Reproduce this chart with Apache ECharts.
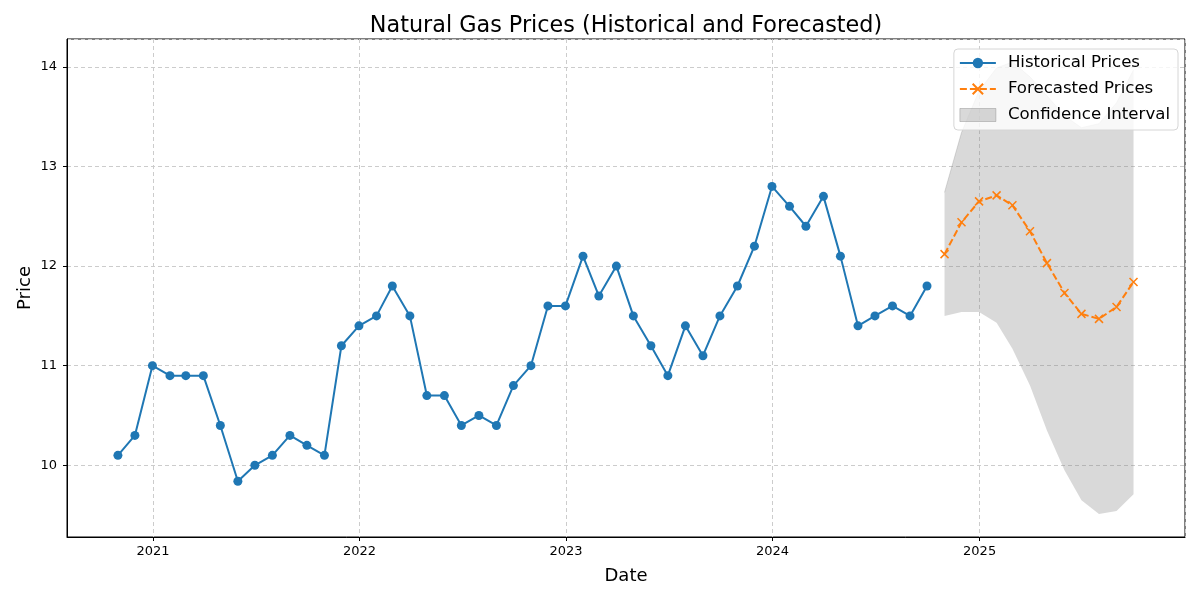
<!DOCTYPE html>
<html>
<head>
<meta charset="utf-8">
<script src="https://cdn.jsdelivr.net/npm/echarts@6/dist/echarts.min.js"></script>
<style>
    html, body { margin: 0; padding: 0; background: #fff; }
    #chart { width: 1200px; height: 600px; }
</style>
</head>
<body>
<div id="chart"></div>
<script>
// historical monthly prices (month end)
var histDates = [
    '2020-10-31', '2020-11-30', '2020-12-31',
    '2021-01-31', '2021-02-28', '2021-03-31', '2021-04-30', '2021-05-31', '2021-06-30',
    '2021-07-31', '2021-08-31', '2021-09-30', '2021-10-31', '2021-11-30', '2021-12-31',
    '2022-01-31', '2022-02-28', '2022-03-31', '2022-04-30', '2022-05-31', '2022-06-30',
    '2022-07-31', '2022-08-31', '2022-09-30', '2022-10-31', '2022-11-30', '2022-12-31',
    '2023-01-31', '2023-02-28', '2023-03-31', '2023-04-30', '2023-05-31', '2023-06-30',
    '2023-07-31', '2023-08-31', '2023-09-30', '2023-10-31', '2023-11-30', '2023-12-31',
    '2024-01-31', '2024-02-29', '2024-03-31', '2024-04-30', '2024-05-31', '2024-06-30',
    '2024-07-31', '2024-08-31', '2024-09-30'
];
var histPrices = [
    10.1, 10.3, 11.0,
    10.9, 10.9, 10.9, 10.4, 9.84, 10.0,
    10.1, 10.3, 10.2, 10.1, 11.2, 11.4,
    11.5, 11.8, 11.5, 10.7, 10.7, 10.4,
    10.5, 10.4, 10.8, 11.0, 11.6, 11.6,
    12.1, 11.7, 12.0, 11.5, 11.2, 10.9,
    11.4, 11.1, 11.5, 11.8, 12.2, 12.8,
    12.6, 12.4, 12.7, 12.1, 11.4, 11.5,
    11.6, 11.5, 11.8
];

// forecast
var fcDates = [
    '2024-10-31', '2024-11-30', '2024-12-31', '2025-01-31', '2025-02-28', '2025-03-31',
    '2025-04-30', '2025-05-31', '2025-06-30', '2025-07-31', '2025-08-31', '2025-09-30'
];
var fcPrices = [12.12, 12.44, 12.65, 12.71, 12.61, 12.35, 12.03, 11.73, 11.52, 11.47, 11.59, 11.84];
var ciLower = [11.50, 11.54, 11.54, 11.43, 11.17, 10.80, 10.35, 9.95, 9.65, 9.51, 9.54, 9.71];
var ciUpper = [12.74, 13.34, 13.76, 13.99, 14.05, 13.90, 13.71, 13.51, 13.39, 13.43, 13.64, 13.97];

var zip = function (xs, ys) {
    return xs.map(function (x, i) { return [x, ys[i]]; });
};

// band height on top of the lower bound (stacked)
var ciBand = ciUpper.map(function (u, i) { return +(u - ciLower[i]).toFixed(4); });

var font = 'DejaVu Sans';
var gridLine = { show: true, lineStyle: { color: '#cccccc', type: [4, 3], width: 1 } };
var myChart = echarts.init(document.getElementById('chart'));

var option = {
    animation: false,
    backgroundColor: '#fff',
    textStyle: { fontFamily: font },
    title: {
        text: 'Natural Gas Prices (Historical and Forecasted)',
        left: 621,
        textAlign: 'center',
        top: 10,
        textStyle: { fontFamily: font, fontSize: 22.3, fontWeight: 'normal', color: '#000' }
    },
    legend: {
        orient: 'vertical',
        right: 22,
        top: 49,
        padding: [4, 8, 5, 5],
        itemGap: 6,
        itemWidth: 36,
        itemHeight: 13,
        backgroundColor: 'rgba(255,255,255,0.8)',
        borderColor: '#d6d6d6',
        borderWidth: 1,
        borderRadius: 4,
        textStyle: { fontFamily: font, fontSize: 16.6, lineHeight: 20, color: '#000', padding: [0, 0, 0, 7] },
        data: [
            { name: 'Historical Prices' },
            { name: 'Forecasted Prices' },
            { name: 'Confidence Interval', icon: 'rect', itemStyle: { color: 'rgba(128,128,128,0.3)', borderColor: 'rgba(128,128,128,0.4)', borderWidth: 1 } }
        ]
    },
    grid: {
        left: 67, right: 15, top: 39, bottom: 63,
        show: true,
        borderColor: '#000',
        borderWidth: 1,
        containLabel: false
    },
    xAxis: {
        type: 'time',
        min: '2020-08-02',
        max: '2025-12-30',
        minInterval: 365 * 24 * 3600 * 1000,
        name: 'Date',
        nameLocation: 'middle',
        nameGap: 30,
        nameMoveOverlap: false,
        nameTextStyle: { fontFamily: font, fontSize: 18, color: '#000' },
        axisLine: { show: true, lineStyle: { color: '#000' } },
        axisTick: { show: true, length: 4, lineStyle: { color: '#000' } },
        axisLabel: {
            formatter: '{yyyy}',
            fontFamily: font, fontSize: 13, color: '#000', margin: 8,
            showMinLabel: false, showMaxLabel: false
        },
        splitLine: gridLine
    },
    yAxis: {
        type: 'value',
        min: 9.28,
        max: 14.28,
        name: 'Price',
        nameLocation: 'middle',
        nameGap: 33,
        nameMoveOverlap: false,
        nameTextStyle: { fontFamily: font, fontSize: 18, color: '#000' },
        axisLine: { show: true, lineStyle: { color: '#000' } },
        axisTick: { show: true, length: 4, lineStyle: { color: '#000' } },
        axisLabel: {
            fontFamily: font, fontSize: 13, color: '#000', margin: 10,
            showMinLabel: false, showMaxLabel: false
        },
        splitLine: gridLine
    },
    series: [
        {
            name: 'ciBase',
            type: 'line',
            stack: 'ci',
            data: zip(fcDates, ciLower),
            symbol: 'none',
            lineStyle: { width: 0, opacity: 0 },
            areaStyle: { opacity: 0 },
            silent: true,
            z: 1
        },
        {
            name: 'Confidence Interval',
            type: 'line',
            stack: 'ci',
            data: zip(fcDates, ciBand),
            symbol: 'none',
            itemStyle: { color: 'rgba(128,128,128,0.3)' },
            lineStyle: { width: 0.8, color: 'rgba(128,128,128,0.35)' },
            areaStyle: { color: 'rgba(128,128,128,0.3)', opacity: 1 },
            silent: true,
            z: 1
        },
        {
            name: 'Historical Prices',
            type: 'line',
            data: zip(histDates, histPrices),
            symbol: 'circle',
            symbolSize: 9,
            itemStyle: { color: '#1f77b4' },
            lineStyle: { color: '#1f77b4', width: 2 },
            z: 3
        },
        {
            name: 'Forecasted Prices',
            type: 'line',
            data: zip(fcDates, fcPrices),
            symbol: 'path://M0,0L10,10M10,0L0,10',
            symbolSize: 8,
            itemStyle: { color: '#ff7f0e', borderColor: '#ff7f0e', borderWidth: 1.5 },
            lineStyle: { color: '#ff7f0e', width: 2, type: [7, 3] },
            z: 3
        }
    ]
};

myChart.setOption(option);
window.onresize = myChart.resize;
</script>
</body>
</html>
